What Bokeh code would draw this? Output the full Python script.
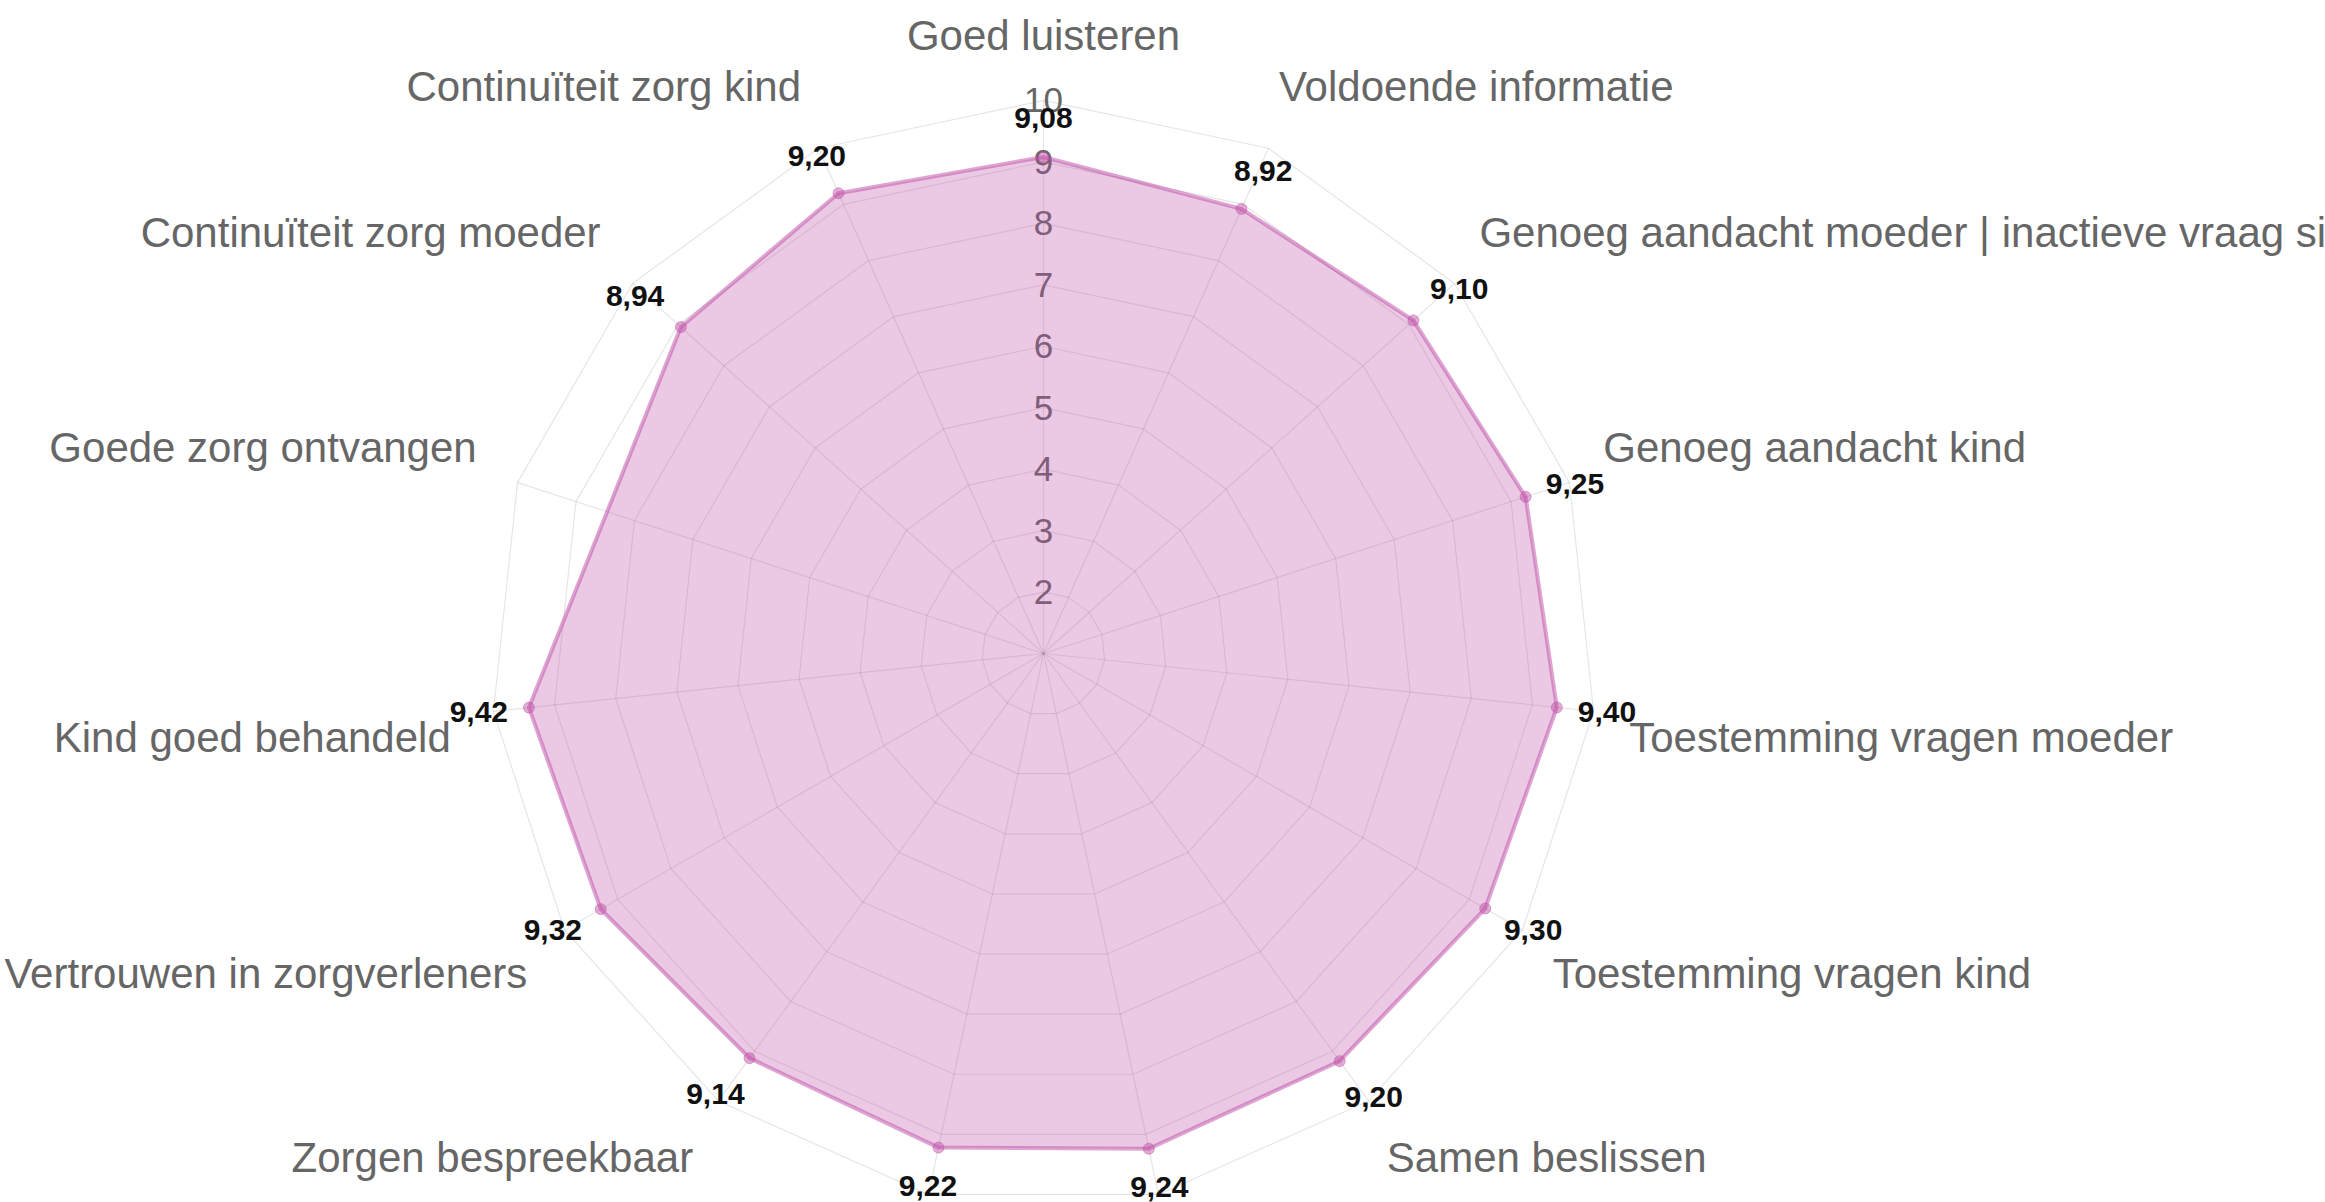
import math
from bokeh.plotting import figure
from bokeh.models import Range1d
from bokeh.core.properties import value
from bokeh.embed import file_html
from bokeh.resources import INLINE

# ---------------- data ----------------
categories = [
    "Goed luisteren",
    "Voldoende informatie",
    "Genoeg aandacht moeder | inactieve vraag sinds",
    "Genoeg aandacht kind",
    "Toestemming vragen moeder",
    "Toestemming vragen kind",
    "Samen beslissen",
    "",
    "",
    "Zorgen bespreekbaar",
    "Vertrouwen in zorgverleners",
    "Kind goed behandeld",
    "Goede zorg ontvangen",
    "Continuïteit zorg moeder",
    "Continuïteit zorg kind",
]
scores = [9.08, 8.92, 9.10, 9.25, 9.40, 9.30, 9.20, 9.24, 9.22, 9.14, 9.32, 9.42, None, 8.94, 9.20]
tick_values = [2, 3, 4, 5, 6, 7, 8, 9, 10]
scale_min = 1
scale_max = 10

# ---------------- geometry ----------------
W, H = 2325, 1202
X0, Y1 = -1043, 653          # visible range (centre of the web at data 0,0)
UNIT = 61.45                 # pixels per score unit
LABEL_R = 596                # distance of category labels
N = len(categories)

def rad(v):
    return (v - scale_min) * UNIT

def ang(i):
    return math.radians(90 - 360.0 * i / N)

def pos(i, r):
    a = ang(i)
    return r * math.cos(a), r * math.sin(a)

p = figure(width=W, height=H, output_backend="svg", toolbar_location=None,
           x_range=Range1d(X0, X0 + W), y_range=Range1d(Y1 - H, Y1),
           min_border=0, background_fill_color="white", border_fill_color="white")
p.axis.visible = False
p.xgrid.visible = False
p.ygrid.visible = False
p.outline_line_color = None

grid_col = "#000000"
grid_alpha = 0.1

# rings
for t in tick_values:
    xs, ys = [], []
    for i in range(N + 1):
        x, y = pos(i % N, rad(t))
        xs.append(x); ys.append(y)
    p.line(xs, ys, line_color=grid_col, line_alpha=grid_alpha, line_width=1.2)

# spokes
for i in range(N):
    x, y = pos(i, rad(scale_max))
    p.line([0, x], [0, y], line_color=grid_col, line_alpha=grid_alpha, line_width=1.2)

# tick labels
p.text(x=[0] * len(tick_values), y=[rad(t) for t in tick_values],
       text=[str(t) for t in tick_values], text_align="center", text_baseline="middle",
       text_font=value("Liberation Sans"), text_font_size="35px", text_color="#666666")

# category labels
lab_font = 42
lh = lab_font * 1.2
lx, ly, lt, la = [], [], [], []
for i, c in enumerate(categories):
    x, y = pos(i, LABEL_R)
    deg = (360.0 * i / N) % 360
    if deg == 0 or deg == 180:
        al = "center"
    elif deg < 180:
        al = "left"
        x -= 7
    else:
        al = "right"
    if deg == 90 or deg == 270:
        yy = y
    elif deg > 270 or deg < 90:
        yy = y + lh / 2 - 3
    else:
        yy = y - lh / 2 + 3
    lx.append(x); ly.append(yy); lt.append(c); la.append(al)
for al in ("left", "right", "center"):
    idx = [k for k in range(N) if la[k] == al]
    p.text(x=[lx[k] for k in idx], y=[ly[k] for k in idx], text=[lt[k] for k in idx],
           text_align=al, text_baseline="middle", text_font=value("Liberation Sans"),
           text_font_size=f"{lab_font}px", text_color="#666666")

# dataset (gaps spanned)
fill_rgb = (190, 75, 165)
px, py = [], []
for i, s in enumerate(scores):
    if s is None:
        continue
    x, y = pos(i, rad(s))
    px.append(x); py.append(y)
p.patch(px, py, fill_color=fill_rgb, fill_alpha=0.3, line_color=fill_rgb,
        line_alpha=0.5, line_width=4)
p.scatter(px, py, size=11, fill_color=fill_rgb, fill_alpha=0.45, line_color=fill_rgb,
          line_alpha=0.45)

# value labels (radial, outside each point)
vf = 30
vx_l, vy_l, vt = [], [], []
for i, s in enumerate(scores):
    if s is None:
        continue
    txt = f"{s:.2f}".replace(".", ",")
    tw = sum(0.278 * vf if ch == "," else 0.556 * vf for ch in txt)
    bw = tw + 8
    bh = vf * 1.2 + 8
    a = ang(i)
    ux, uy = math.cos(a), math.sin(a)
    m = max(abs(ux), abs(uy))
    x, y = pos(i, rad(s))
    off = 17
    cx = x + ux * off + bw / 2 * ux / m
    cy = y + uy * off + bh / 2 * uy / m
    vx_l.append(cx); vy_l.append(cy); vt.append(txt)
p.text(x=vx_l, y=vy_l, text=vt, text_align="center", text_baseline="middle",
       text_font=value("Liberation Sans"), text_font_size=f"{vf}px",
       text_font_style="bold", text_color="#111111")

open("out.html", "w").write(file_html(p, INLINE))
